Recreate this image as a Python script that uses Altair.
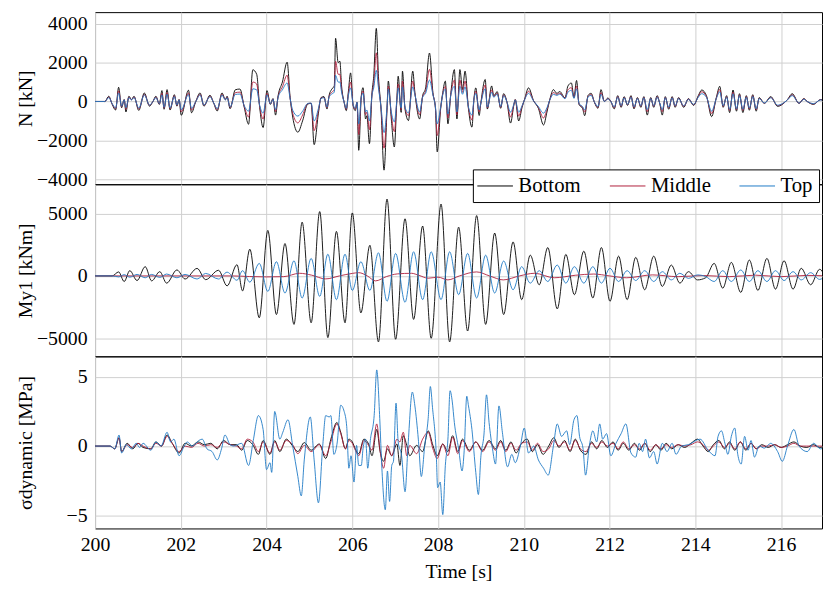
import altair as alt
import pandas as pd

FONT = "Liberation Serif"
SERIES = ["Bottom", "Middle", "Top"]
COLORS = ["#000000", "#b01f3c", "#1f7ac6"]
X_TICKS = [200, 202, 204, 206, 208, 210, 212, 214, 216]

# ---------------- N [kN] ----------------
n_t = [200.00, 200.23, 200.32, 200.40, 200.48, 200.55, 200.62, 200.68, 200.72, 200.79,
       200.85, 200.91, 201.02, 201.15, 201.27, 201.35, 201.42, 201.50, 201.56, 201.61,
       201.68, 201.75, 201.85, 201.91, 201.96, 202.01, 202.18, 202.25, 202.35, 202.45,
       202.54, 202.68, 202.77, 202.85, 202.96, 203.04, 203.08, 203.15, 203.27, 203.38,
       203.48, 203.58, 203.68, 203.77, 203.84, 203.92, 204.01, 204.09, 204.15, 204.21,
       204.27, 204.37, 204.48, 204.55, 204.61, 204.73, 204.84, 204.96, 205.04, 205.11,
       205.21, 205.27, 205.34, 205.41, 205.46, 205.52, 205.58, 205.61, 205.67, 205.71,
       205.75, 205.81, 205.86, 205.91, 205.96, 206.02, 206.07, 206.11, 206.15, 206.21,
       206.25, 206.31, 206.34, 206.40, 206.46, 206.50, 206.56, 206.61, 206.67, 206.74,
       206.81, 206.84, 206.91, 206.98, 207.04, 207.07, 207.14, 207.17, 207.23, 207.31,
       207.41, 207.46, 207.57, 207.64, 207.71, 207.80, 207.88, 207.94, 207.98, 208.06,
       208.11, 208.17, 208.23, 208.30, 208.38, 208.44, 208.51, 208.57, 208.63, 208.71,
       208.79, 208.84, 208.88, 208.96, 208.99, 209.10, 209.15, 209.25, 209.30, 209.38,
       209.46, 209.53, 209.61, 209.69, 209.77, 209.80, 209.88, 209.96, 210.02, 210.11,
       210.23, 210.34, 210.46, 210.54, 210.61, 210.69, 210.77, 210.84, 210.96, 211.03,
       211.11, 211.17, 211.23, 211.29, 211.37, 211.42, 211.50, 211.57, 211.65, 211.73,
       211.80, 211.88, 211.96, 212.03, 212.11, 212.19, 212.27, 212.34, 212.42, 212.50,
       212.57, 212.65, 212.73, 212.80, 212.88, 212.96, 213.03, 213.11, 213.17, 213.23,
       213.30, 213.38, 213.46, 213.53, 213.61, 213.73, 213.84, 213.96, 214.07, 214.15,
       214.26, 214.38, 214.49, 214.57, 214.65, 214.73, 214.80, 214.88, 214.96, 215.03,
       215.11, 215.19, 215.26, 215.34, 215.42, 215.49, 215.61, 215.76, 215.92, 216.03,
       216.15, 216.26, 216.42, 216.53, 216.61, 216.76, 216.92, 217.05]

n_bottom = [0, 0, 270, -150, -440, 730, -320, 100, -540, 270,
            100, 270, -460, 440, -240, 0, 270, -150, 560, -400,
            610, -440, 350, -240, 100, -710, 580, -580, 0, 440,
            -240, 320, -100, -490, 440, 100, 270, -370, 600, 640,
            -300, -1170, 1630, 1400, -300, -1340, 560, -150, 150, -700,
            300, 1000, 2020, 200, -800, -1580, -1000, -130, -100, -2220,
            -600, 200, 250, -390, 320, 630, 800, 3250, 2000, 2070,
            800, -50, -470, 540, 1470, -220, -470, -50, -2510, 290,
            710, -900, -730, -2170, 460, 1300, 3760, 1300, -390, -3530,
            -390, 1050, -900, -2340, 120, 1300, -560, 1560, -390, -980,
            1560, 460, -900, 290, 700, 2490, 460, -390, -2590, -390,
            460, 1050, -1150, 460, 1640, -900, 1640, 620, 1560, -390,
            -1320, 200, 700, -720, -220, 1130, -390, 800, 290, 510,
            -350, 400, -60, -1110, -160, 100, -1000, -300, 130, 700,
            30, -350, -1210, -540, 130, 610, 420, 510, 190, 800,
            950, 220, 1080, -160, -350, -730, 320, 420, -60, -350,
            610, 0, 180, 0, -380, 300, -300, 250, -200, 300,
            -380, 200, -300, 250, -700, 200, -300, 300, -100, -700,
            250, -400, 250, -300, 200, -300, 150, -200, 300, 590,
            300, -780, 200, 780, -300, 300, -570, 590, -500, 400,
            -570, 300, -450, 350, -500, 200, -100, 250, -250, -150,
            100, 400, -100, 150, 0, -150, 100, 0]

n_middle = [0, 0, 230, -130, -370, 550, -270, 90, -400, 230,
            90, 230, -390, 370, -200, 0, 230, -130, 420, -340,
            460, -370, 300, -200, 90, -530, 440, -440, 0, 370,
            -200, 270, -90, -420, 370, 90, 230, -310, 450, 480,
            -250, -800, 1000, 900, -250, -900, 420, -130, 130, -520,
            250, 750, 1350, 170, -600, -1100, -700, -110, -90, -1500,
            -450, 170, 210, -330, 270, 470, 600, 2070, 1400, 1400,
            600, -40, -400, 410, 1000, -190, -400, -40, -1700, 250,
            530, -680, -550, -1450, 390, 900, 2500, 900, -330, -2400,
            -330, 780, -680, -1550, 100, 900, -420, 1050, -330, -730,
            1050, 390, -680, 250, 530, 1650, 390, -330, -1750, -330,
            390, 780, -850, 390, 1100, -680, 1100, 470, 1050, -330,
            -950, 170, 530, -540, -190, 850, -330, 600, 250, 430,
            -300, 340, -50, -800, -140, 90, -750, -250, 110, 530,
            30, -300, -850, -400, 110, 460, 360, 430, 160, 600,
            710, 190, 800, -140, -300, -550, 270, 360, -50, -300,
            460, 0, 150, 0, -320, 250, -250, 210, -170, 250,
            -320, 170, -250, 210, -520, 170, -250, 250, -90, -520,
            210, -340, 210, -250, 170, -250, 130, -170, 250, 500,
            250, -620, 170, 620, -250, 250, -460, 480, -420, 340,
            -460, 250, -380, 300, -420, 170, -90, 210, -210, -130,
            90, 340, -90, 130, 0, -130, 90, 0]

n_top = [0, 0, 200, -110, -330, 440, -240, 80, -320, 200,
         80, 200, -340, 330, -180, 0, 200, -110, 340, -300,
         370, -330, 260, -180, 80, -430, 350, -350, 0, 330,
         -180, 240, -80, -370, 330, 80, 200, -280, 360, 380,
         -220, -500, 650, 600, -200, -600, 340, -110, 110, -420,
         220, 600, 950, 150, -450, -750, -500, -100, -80, -1000,
         -360, 150, 190, -290, 240, 380, 480, 1350, 1000, 1000,
         480, -40, -350, 320, 700, -160, -350, -40, -1150, 220,
         430, -540, -440, -1000, 350, 700, 1600, 700, -290, -1600,
         -290, 630, -540, -1050, 90, 700, -340, 750, -290, -590,
         750, 350, -540, 220, 420, 1100, 350, -290, -1150, -290,
         350, 630, -650, 350, 780, -540, 780, 370, 750, -290,
         -700, 150, 420, -430, -160, 650, -290, 480, 220, 380,
         -260, 300, -40, -550, -120, 80, -550, -220, 100, 420,
         20, -260, -600, -320, 100, 370, 310, 380, 140, 480,
         570, 160, 650, -120, -260, -440, 240, 310, -40, -260,
         370, 0, 130, 0, -280, 220, -220, 190, -150, 220,
         -280, 150, -220, 190, -420, 150, -220, 220, -80, -420,
         190, -300, 190, -220, 150, -220, 110, -150, 220, 400,
         220, -500, 150, 500, -220, 220, -400, 400, -380, 300,
         -400, 220, -340, 260, -380, 150, -80, 190, -190, -110,
         80, 300, -80, 110, 0, -110, 80, 0]

# ---------------- My1 [kNm] ----------------
m_t = [200.00, 200.40, 200.55, 200.68, 200.81, 200.98, 201.17, 201.32, 201.51, 201.67,
       201.91, 202.10, 202.38, 202.58, 202.88, 203.08, 203.31, 203.44, 203.61, 203.83,
       204.03, 204.23, 204.43, 204.64, 204.83, 205.04, 205.24, 205.43, 205.63, 205.83,
       206.00, 206.20, 206.41, 206.61, 206.81, 207.01, 207.23, 207.43, 207.64, 207.84,
       208.07, 208.27, 208.48, 208.69, 208.90, 209.11, 209.32, 209.53, 209.75, 209.95,
       210.15, 210.36, 210.56, 210.78, 210.98, 211.18, 211.40, 211.61, 211.81, 212.01,
       212.21, 212.41, 212.61, 212.82, 213.03, 213.23, 213.44, 213.64, 213.84, 214.05,
       214.24, 214.44, 214.64, 214.84, 215.06, 215.26, 215.46, 215.67, 215.87, 216.07,
       216.28, 216.47, 216.69, 216.90, 217.05]

m_bottom = [0, 0, 320, -450, 420, -370, 740, -400, 340, -580,
            480, -250, 600, -300, 450, -800, 900, -1200, 2140, -3350,
            3640, -3090, 2590, -3880, 4300, -3750, 5150, -4940, 3560, -3750,
            5040, -2960, 2450, -5280, 6150, -5070, 4570, -3480, 3990, -4990,
            5750, -5280, 3900, -4410, 4830, -3880, 3430, -3090, 2720, -1900,
            1660, -710, 2270, -2640, 1720, -1500, 1980, -1770, 2270, -2030,
            1580, -1900, 1480, -1110, 1580, -840, 870, -580, 340, -320,
            -150, 1000, -980, 1080, -1320, 1270, -1160, 1400, -1060, 1210,
            -1060, 610, -710, 530, -300]

m_top = [0, 0, -80, 100, -100, 120, -150, 120, -120, 150,
         -150, 120, -250, 200, -250, 300, -350, 420, -500, 1000,
         -1240, 1135, -1370, 1210, -1770, 1400, -1640, 1740, -1900, 1740,
         -1160, 1135, -1160, 1850, -2030, 1800, -2110, 1930, -1900, 1930,
         -1900, 1930, -1500, 1800, -1770, 1660, -1370, 1190, -1110, 740,
         -580, 420, -450, 870, -580, 740, -580, 740, -580, 610,
         -450, 420, -370, 420, -450, 340, -320, 210, -200, 80,
         -50, -450, 420, -450, 475, -450, 420, -450, 420, -370,
         340, -320, 260, -280, 100]

m_mid_t = [200.00, 203.20, 203.60, 204.00, 204.40, 204.77, 205.05, 205.38, 205.70, 206.00,
           206.15, 206.35, 206.54, 206.80, 207.05, 207.38, 207.55, 207.77, 208.00, 208.23,
           208.50, 208.90, 209.20, 209.52, 209.90, 210.25, 210.71, 211.20, 211.63, 212.00,
           212.40, 213.00, 213.60, 214.20, 214.80, 215.40, 216.00, 216.60, 217.05]
m_middle = [0, 0, -50, -80, -60, 210, 60, -240, 0, 200,
            260, 0, -400, -50, 160, 210, 50, -185, -100, -320,
            0, 320, 0, -320, 0, 210, -150, 50, 150, 0,
            -150, 80, -60, 30, -60, 60, -60, 40, 0]

# ---------------- sigma_dynamic [MPa] ----------------
s_top_t = [200.00, 200.35, 200.46, 200.56, 200.62, 200.73, 200.85, 200.96, 201.04, 201.12,
           201.30, 201.42, 201.54, 201.68, 201.76, 201.84, 201.96, 202.08, 202.15, 202.27,
           202.42, 202.50, 202.61, 202.73, 202.85, 202.95, 203.03, 203.15, 203.23, 203.42,
           203.58, 203.69, 203.81, 203.92, 204.00, 204.08, 204.12, 204.19, 204.31, 204.38,
           204.50, 204.61, 204.73, 204.81, 204.88, 205.02, 205.11, 205.21, 205.31, 205.38,
           205.46, 205.50, 205.57, 205.65, 205.73, 205.81, 205.87, 205.92, 205.97, 206.04,
           206.10, 206.15, 206.21, 206.25, 206.31, 206.36, 206.42, 206.51, 206.57, 206.64,
           206.69, 206.77, 206.82, 206.87, 206.92, 206.96, 207.02, 207.07, 207.15, 207.23,
           207.30, 207.40, 207.46, 207.54, 207.61, 207.69, 207.77, 207.82, 207.87, 207.96,
           207.99, 208.05, 208.11, 208.17, 208.23, 208.28, 208.33, 208.38, 208.48, 208.56,
           208.61, 208.67, 208.71, 208.79, 208.88, 208.94, 209.00, 209.07, 209.13, 209.19,
           209.27, 209.34, 209.42, 209.50, 209.62, 209.72, 209.80, 209.92, 210.01, 210.11,
           210.23, 210.34, 210.46, 210.57, 210.69, 210.78, 210.88, 211.00, 211.07, 211.17,
           211.24, 211.30, 211.38, 211.44, 211.53, 211.61, 211.70, 211.77, 211.84, 211.93,
           212.03, 212.15, 212.27, 212.38, 212.50, 212.61, 212.69, 212.77, 212.84, 212.93,
           213.03, 213.11, 213.23, 213.34, 213.46, 213.55, 213.68, 213.84, 214.11, 214.30,
           214.46, 214.53, 214.61, 214.69, 214.76, 214.84, 214.92, 214.99, 215.07, 215.15,
           215.23, 215.30, 215.38, 215.49, 215.61, 215.76, 215.92, 216.03, 216.15, 216.30,
           216.42, 216.61, 216.76, 216.92, 217.05]
s_top = [0, 0, -0.2, 0.8, -0.5, 0.1, -0.2, 0.2, -0.1, 0.2,
         -0.3, 0.3, 0.0, 1.0, 0.3, 0.5, -0.7, 0.0, 0.3, 0.0,
         0.4, 0.5, -0.2, -0.4, -1.0, -0.2, 0.8, 0.1, 0.0, 0.2,
         -1.4, 0.4, 2.2, 1.2, -1.7, -1.2, -1.9, 2.5, 0.5, 1.0,
         1.9, 0.0, -2.2, -3.6, -1.0, 2.1, -1.0, -4.1, 0.0, 2.2,
         2.1, 2.2, -0.6, 0.3, 2.95, 2.5, 1.4, -1.6, -0.7, -2.6,
         0.05, -1.4, -1.4, -0.2, 0.5, -1.6, 0.4, 2.2, 5.5, 2.0,
         -1.6, -4.6, -1.8, -4.0, -1.4, -1.1, 3.1, 0.3, -0.7, -3.3,
         0.05, 3.9, 2.9, 0.5, -2.2, 0.05, 2.0, 4.3, 2.8, -0.7,
         -3.0, -2.6, -4.95, -1.4, 0.5, 4.0, 3.25, 1.7, -0.2, -1.8,
         -0.3, 3.6, 2.9, 1.2, -1.9, -3.5, -0.7, 0.8, 3.7, 1.7,
         -0.2, -1.3, 2.9, 1.0, -1.5, -0.6, -1.2, 0.0, 1.3, -0.5,
         0.0, -1.0, -1.6, -2.1, 0.0, 1.6, 0.7, 1.1, 0.1, 1.9,
         2.2, 0.7, -0.15, -2.1, 0.05, 1.1, 0.3, 1.6, 0.5, 0.9,
         -0.7, 0.2, 0.9, 1.6, -0.5, -0.8, 0.2, -0.4, 0.5, -0.85,
         -0.4, -1.3, 0.2, -0.4, 0.2, -0.6, 0.0, 0.1, 0.5, -0.3,
         -0.7, 0.7, 1.1, 0.2, -0.6, 0.7, 1.3, -0.6, -1.3, 0.7,
         -0.3, 0.4, -0.8, 0.0, -0.15, 0.2, -0.4, -1.1, 0.0, 1.2,
         0.0, -0.4, 0.2, -0.2, 0.0]

s_bm_t = [200.00, 200.35, 200.46, 200.56, 200.62, 200.75, 200.88, 201.00, 201.12, 201.30,
          201.42, 201.55, 201.68, 201.80, 201.96, 202.10, 202.25, 202.40, 202.55, 202.70,
          202.85, 203.00, 203.15, 203.30, 203.42, 203.55, 203.68, 203.81, 203.92, 204.08,
          204.19, 204.31, 204.46, 204.61, 204.73, 204.88, 205.04, 205.23, 205.38, 205.50,
          205.64, 205.73, 205.84, 205.92, 206.00, 206.07, 206.15, 206.27, 206.38, 206.46,
          206.57, 206.65, 206.73, 206.82, 206.92, 207.04, 207.11, 207.19, 207.27, 207.34,
          207.50, 207.64, 207.77, 207.88, 207.98, 208.11, 208.23, 208.34, 208.46, 208.57,
          208.73, 208.88, 209.04, 209.19, 209.34, 209.46, 209.58, 209.70, 209.82, 209.95,
          210.08, 210.20, 210.32, 210.45, 210.58, 210.70, 210.82, 210.95, 211.08, 211.20,
          211.32, 211.45, 211.58, 211.70, 211.82, 211.95, 212.08, 212.20, 212.32, 212.45,
          212.58, 212.70, 212.82, 212.95, 213.08, 213.20, 213.32, 213.45, 213.60, 213.75,
          213.90, 214.05, 214.18, 214.30, 214.42, 214.55, 214.68, 214.80, 214.92, 215.05,
          215.18, 215.30, 215.42, 215.55, 215.70, 215.85, 216.00, 216.15, 216.30, 216.45,
          216.60, 216.75, 216.90, 217.05]
s_bottom = [0, 0, -0.2, 0.6, -0.4, 0.2, -0.2, 0.2, -0.1, -0.2,
            0.3, 0.0, 0.8, 0.2, -0.5, 0.2, 0.0, 0.3, 0.1, 0.2,
            -0.2, 0.4, 0.1, 0.1, -0.3, 0.4, 0.1, -0.6, 0.4, -0.6,
            0.4, -0.4, 0.5, 0.0, -0.4, 0.25, -0.3, 0.15, -0.9, 0.5,
            1.7, 1.0, -0.2, 0.5, 0.3, -0.2, -0.55, 0.5, 0.15, -0.7,
            1.2, -0.4, -1.1, -0.2, -0.7, 0.15, -1.4, 0.75, 0.05, -0.7,
            0.05, -0.4, 1.1, 0.05, -0.7, 0.15, -0.4, 0.75, -0.4, 0.5,
            -0.3, 0.3, -0.3, 0.4, -0.2, 0.4, -0.3, 0.3, -0.5, 0.2,
            0.5, -0.4, 0.1, -0.6, 0.0, 0.6, -0.1, 0.4, -0.4, 0.5,
            -0.3, -0.6, 0.3, -0.2, 0.4, -0.1, 0.3, -0.3, 0.2, -0.3,
            0.2, -0.3, 0.2, -0.4, 0.1, -0.3, 0.2, -0.2, 0.1, -0.1,
            0.2, 0.5, 0.0, -0.4, 0.1, 0.4, -0.2, 0.3, -0.3, 0.3,
            -0.3, 0.2, -0.2, 0.1, -0.1, 0.1, -0.1, 0.1, 0.3, 0.0,
            -0.1, 0.1, -0.1, 0.0]
s_middle = [0, 0, -0.2, 0.6, -0.4, 0.1, -0.1, 0.2, 0.0, -0.2,
            0.2, 0.0, 0.7, 0.2, -0.4, 0.0, -0.1, 0.2, 0.0, 0.1,
            -0.1, 0.3, 0.1, 0.0, -0.2, 0.5, 0.3, -0.4, 0.3, -0.5,
            0.3, -0.3, 0.4, 0.1, -0.55, 0.05, -0.4, 0.1, -0.7, 0.3,
            1.6, 0.9, -0.2, 0.4, 0.2, -0.3, -0.7, 0.4, 0.05, -0.3,
            1.6, -0.4, -1.6, 0.05, -0.7, 0.5, 0.3, 1.0, -0.7, 0.05,
            -0.55, 0.5, 1.0, -0.2, -0.9, 0.15, -0.7, 0.65, -0.55, 0.4,
            -0.4, 0.3, -0.4, 0.3, -0.3, 0.3, -0.4, 0.2, -0.3, 0.2,
            0.3, -0.3, 0.2, -0.4, -0.2, 0.4, 0.0, 0.3, -0.3, 0.4,
            -0.2, -0.4, 0.2, -0.1, 0.3, 0.0, 0.2, -0.2, 0.3, -0.2,
            0.1, -0.2, 0.2, -0.3, 0.1, -0.2, 0.1, -0.1, 0.1, 0.0,
            0.1, 0.3, 0.1, -0.3, 0.0, 0.3, -0.1, 0.2, -0.2, 0.3,
            -0.2, 0.2, -0.2, 0.0, 0.0, 0.1, -0.1, 0.0, 0.2, 0.0,
            0.0, 0.0, 0.0, 0.0]


def frame(pairs):
    parts = [pd.DataFrame({"t": t, "v": v, "s": name}) for name, t, v in pairs]
    return pd.concat(parts, ignore_index=True)


n_df = frame([("Bottom", n_t, n_bottom), ("Middle", n_t, n_middle), ("Top", n_t, n_top)])
m_df = frame([("Bottom", m_t, m_bottom), ("Middle", m_mid_t, m_middle), ("Top", m_t, m_top)])
s_df = frame([("Bottom", s_bm_t, s_bottom), ("Middle", s_bm_t, s_middle), ("Top", s_top_t, s_top)])

W, H = 735, 174
X_DOMAIN = [200, 216.955]


def panel(df, ytitle, ydomain, yticks, bottom, legend):
    if bottom:
        xaxis = alt.Axis(values=X_TICKS, format="d", grid=True, ticks=False, domain=False,
                         labelFlush=False, labelPadding=6, titlePadding=8)
        xenc = alt.X("t:Q", title="Time [s]", scale=alt.Scale(domain=X_DOMAIN, nice=False, zero=False), axis=xaxis)
    else:
        xaxis = alt.Axis(values=X_TICKS, grid=True, ticks=False, domain=False, labels=False)
        xenc = alt.X("t:Q", title=None, scale=alt.Scale(domain=X_DOMAIN, nice=False, zero=False), axis=xaxis)
    yaxis = alt.Axis(values=yticks, format="d", grid=True, ticks=False, domain=False,
                     labelFlush=False, labelPadding=8, titleX=-70, titleY=H / 2, titleAngle=270,
                     titleAlign="center", titleBaseline="middle")
    color = alt.Color("s:N", scale=alt.Scale(domain=SERIES, range=COLORS), legend=legend)
    return alt.Chart(df).mark_line(interpolate="monotone", strokeWidth=0.9, clip=True).encode(
        x=xenc,
        y=alt.Y("v:Q", title=ytitle, scale=alt.Scale(domain=ydomain, nice=False, zero=False), axis=yaxis),
        color=color,
    ).properties(width=W, height=H)


legend = alt.Legend(orient="none", legendX=382, legendY=-15, direction="horizontal", columns=3,
                    title=None, symbolType="M-3,0H3", symbolSize=144, symbolStrokeWidth=1,
                    symbolOffset=6, labelOffset=13,
                    labelFont=FONT, labelFontSize=21, labelColor="black",
                    columnPadding=26, padding=6, strokeColor="black", fillColor="white")

p1 = panel(n_df, "N [kN]", [-4255, 4593], [-4000, -2000, 0, 2000, 4000], False, None)
p2 = panel(m_df, "My1 [kNm]", [-6437, 7335], [-5000, 0, 5000], False, legend)
p3 = panel(s_df, "σdynamic [MPa]", [-5.95, 6.48], [-5, 0, 5], True, None)

chart = alt.vconcat(p1, p2, p3, spacing=0, bounds="flush").resolve_scale(
    color="independent"
).resolve_legend(color="independent").properties(
    padding={"left": 7, "top": 0, "right": 0, "bottom": 0},
    background="white"
).configure_view(
    stroke="black", strokeWidth=1
).configure_axis(
    labelFont=FONT, labelFontSize=20, labelColor="black",
    titleFont=FONT, titleFontSize=20, titleFontWeight="normal", titleColor="black",
    gridColor="#cfcfcf", gridWidth=1
)

chart.save("out.html", embed_options={"renderer": "svg", "actions": False})
